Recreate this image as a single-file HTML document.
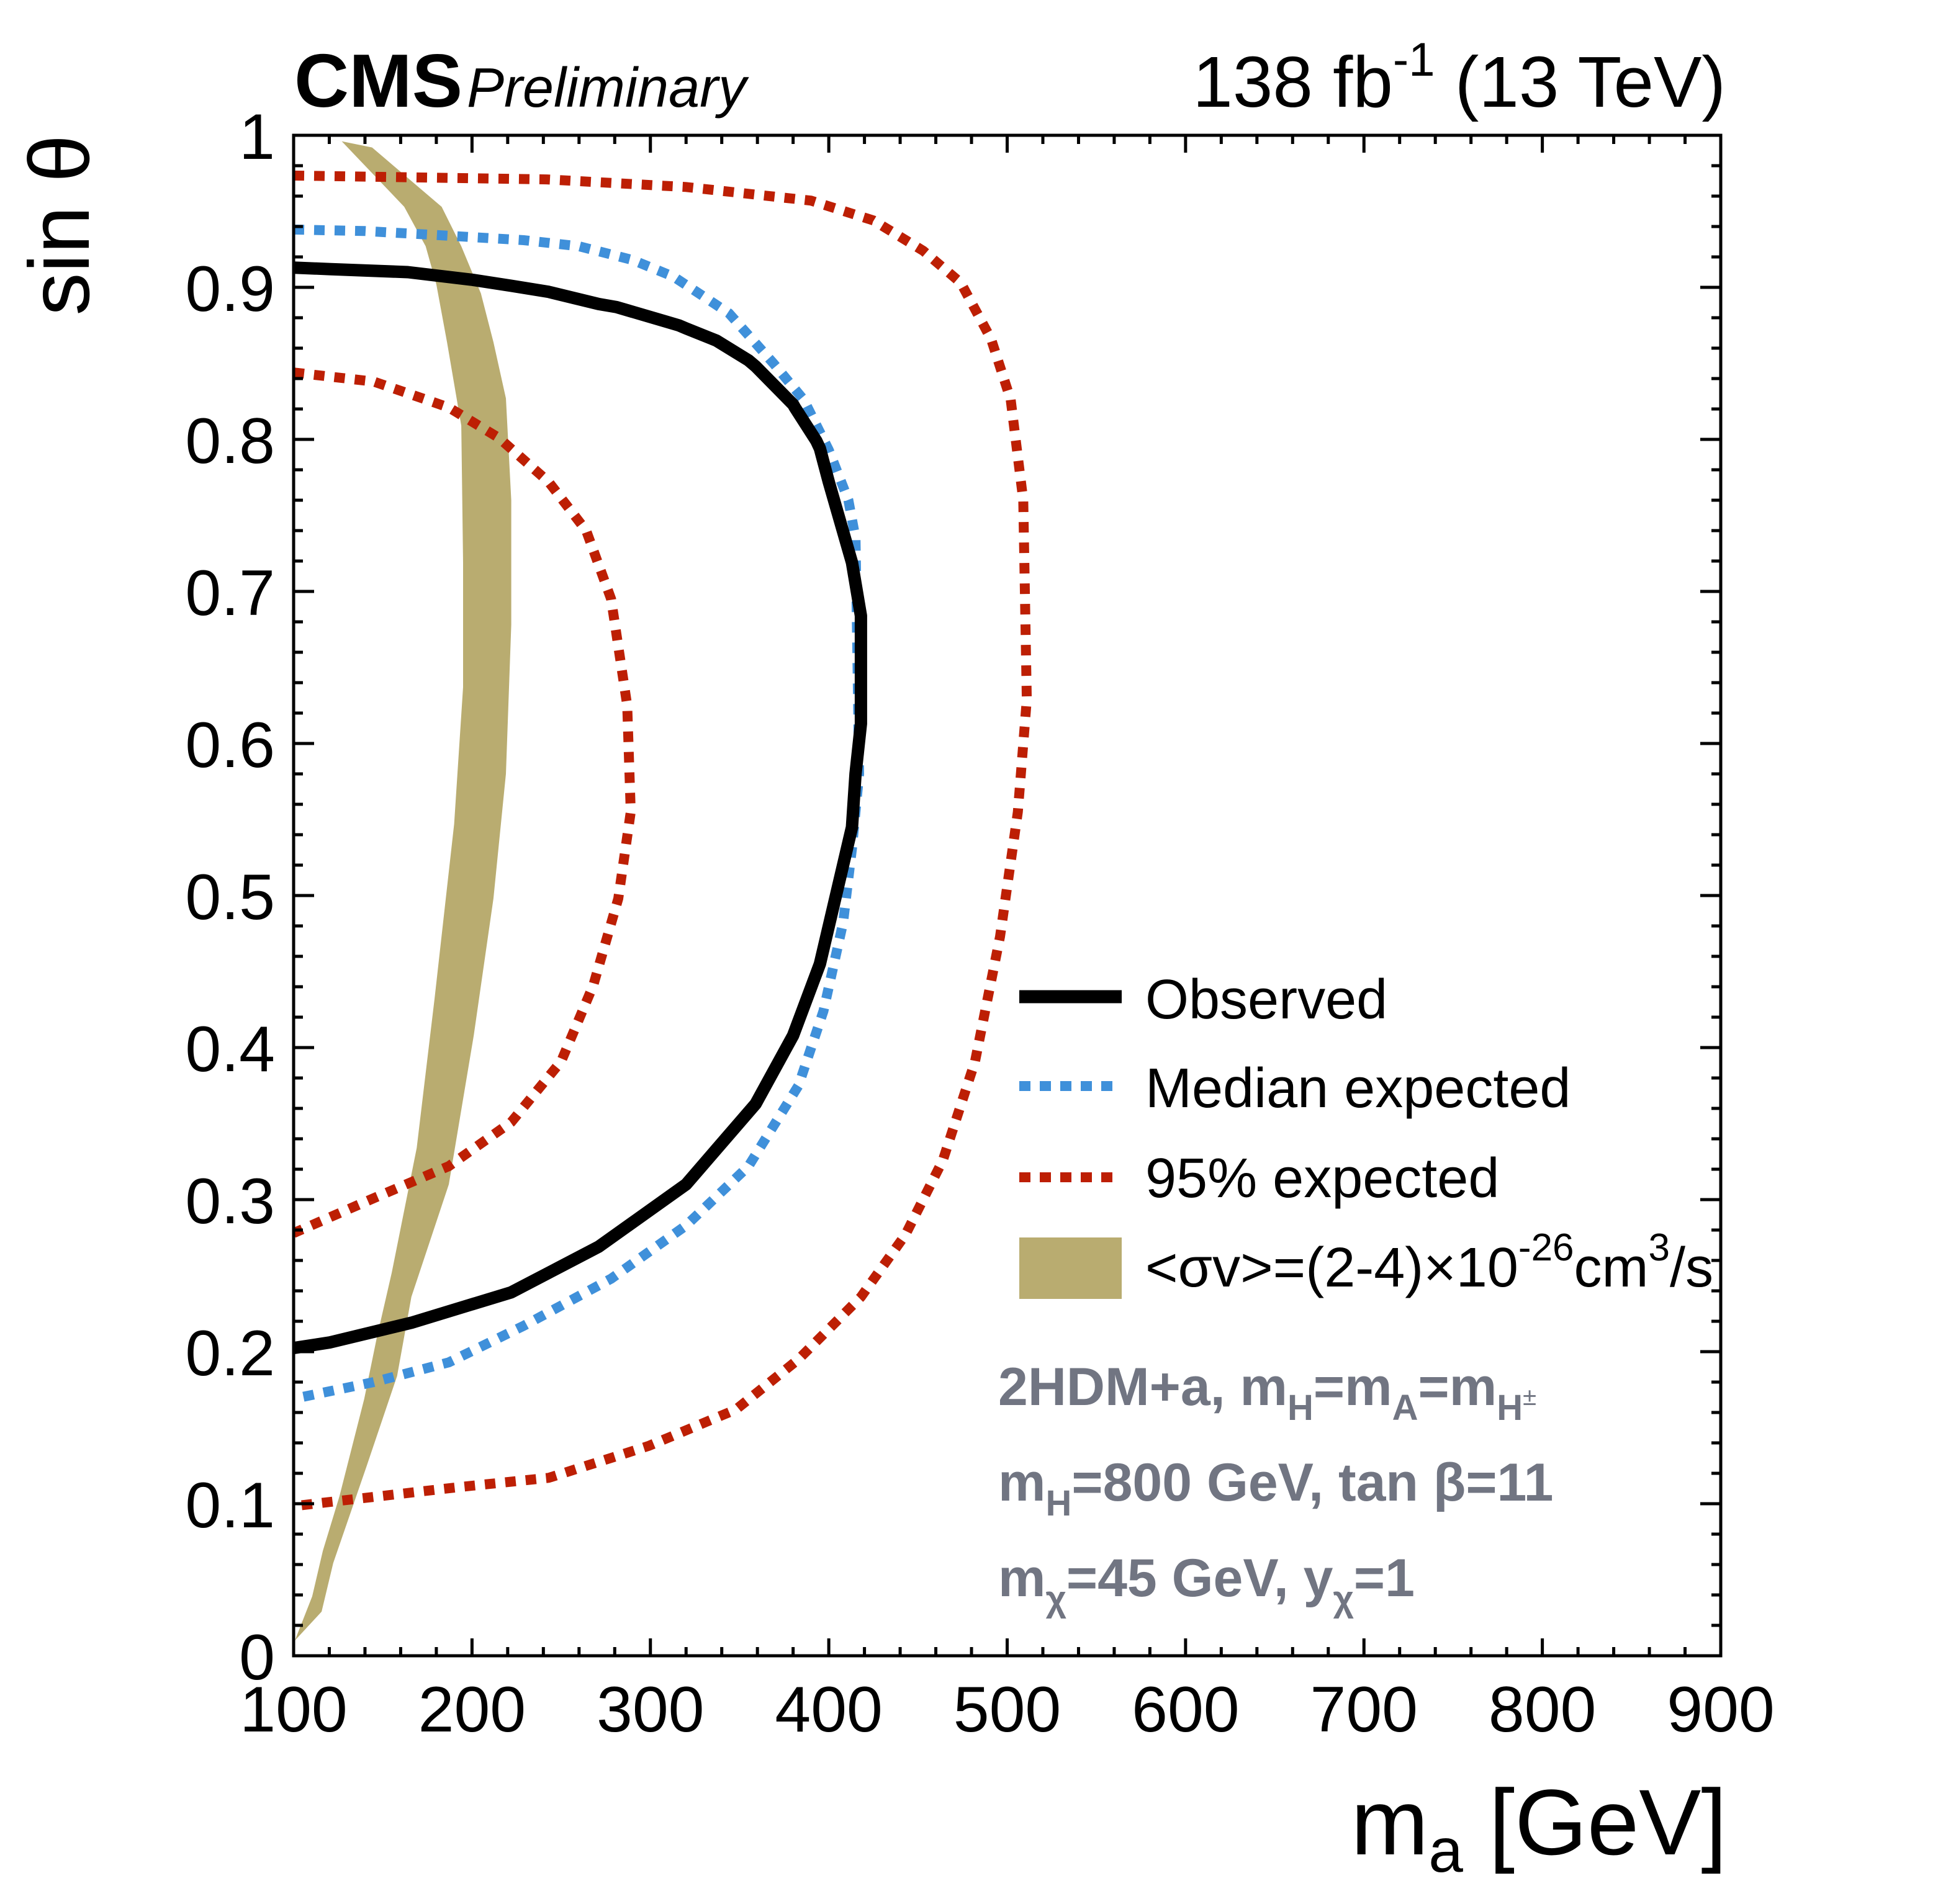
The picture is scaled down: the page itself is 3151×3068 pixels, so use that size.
<!DOCTYPE html>
<html><head><meta charset="utf-8"><style>
html,body{margin:0;padding:0;background:#fff;}
svg{display:block;font-family:"Liberation Sans",Arial,sans-serif;}
</style></head><body>
<svg id="chart" width="3151" height="3068" viewBox="0 0 3151 3068" xmlns="http://www.w3.org/2000/svg">
<defs><clipPath id="plotclip"><rect x="473" y="218" width="2299" height="2450"/></clipPath></defs>
<rect x="0" y="0" width="3151" height="3068" fill="#fff"/>
<g id="band" clip-path="url(#plotclip)"></g>
<g id="curves" clip-path="url(#plotclip)"></g>
<g id="ticks"></g>
<rect x="473" y="218" width="2299" height="2450" fill="none" stroke="#000" stroke-width="5"/>
<g id="labels" font-size="104" fill="#000"></g>
<text x="474" y="172" font-size="122" font-weight="bold">CMS</text>
<text x="752" y="172" font-size="90" font-style="italic">Preliminary</text>
<text x="2780" y="172" font-size="116" text-anchor="end">138 fb<tspan font-size="76" dy="-50">-1</tspan><tspan dy="50"> (13 TeV)</tspan></text>
<text transform="translate(143,217) rotate(-90)" font-size="138" text-anchor="end">sin θ</text>
<text x="2782" y="2988" font-size="150" text-anchor="end">m<tspan font-size="100" dy="28">a</tspan><tspan dy="-28"> [GeV]</tspan></text>
<g font-size="90">
<line x1="1642" y1="1606" x2="1807" y2="1606" stroke="#000" stroke-width="21"/>
<text x="1845" y="1641">Observed</text>
<line x1="1642" y1="1750" x2="1807" y2="1750" stroke="#3f90da" stroke-width="16" stroke-dasharray="18 15"/>
<text x="1845" y="1784">Median expected</text>
<line x1="1642" y1="1897" x2="1807" y2="1897" stroke="#bd1f04" stroke-width="16" stroke-dasharray="18 15"/>
<text x="1845" y="1929">95% expected</text>
<rect x="1642" y="1994" width="165" height="99" fill="#b9ac70"/>
<text x="1845" y="2073">&lt;σv&gt;=(2-4)×10<tspan font-size="62" dy="-42">-26</tspan><tspan dy="42">cm</tspan><tspan font-size="62" dy="-42">3</tspan><tspan dy="42">/s</tspan></text>
</g>
<g font-size="86" font-weight="bold" fill="#717582">
<text x="1608" y="2264">2HDM+a, m<tspan font-size="58" dy="24">H</tspan><tspan dy="-24">=m</tspan><tspan font-size="58" dy="24">A</tspan><tspan dy="-24">=m</tspan><tspan font-size="58" dy="24">H</tspan><tspan font-size="40" font-weight="normal" dy="-24">±</tspan></text>
<text x="1608" y="2418">m<tspan font-size="58" dy="24">H</tspan><tspan dy="-24">=800 GeV, tan β=11</tspan></text>
<text x="1608" y="2572">m<tspan font-size="58" dy="24">χ</tspan><tspan dy="-24">=45 GeV, y</tspan><tspan font-size="58" dy="24">χ</tspan><tspan dy="-24">=1</tspan></text>
</g>
</svg>
<script>
// ---- data ----
const xTicks = [100,200,300,400,500,600,700,800,900];
const yTicks = [0,0.1,0.2,0.3,0.4,0.5,0.6,0.7,0.8,0.9,1];
const yTickLabels = ["0","0.1","0.2","0.3","0.4","0.5","0.6","0.7","0.8","0.9","1"];
const observedX = [100,120,164,200,222,243,271,281,316,320,337,355,359,380,381,393,395,400,413,418,418,415,413,395,380,359,320,271,222,166,120,100];
const observedY = [0.913,0.912,0.910,0.905,0.901,0.897,0.889,0.887,0.875,0.873,0.865,0.852,0.848,0.823,0.821,0.799,0.794,0.772,0.719,0.684,0.613,0.58,0.545,0.455,0.408,0.363,0.310,0.269,0.239,0.219,0.206,0.2024];
const medianX = [100,140,186,229,260,290,313,344,369,386,400,411,415,416,417,413,408,397,383,355,320,278,229,187,145,100];
const medianY = [0.938,0.937,0.934,0.931,0.927,0.918,0.907,0.883,0.850,0.826,0.793,0.760,0.735,0.66,0.58,0.531,0.482,0.424,0.375,0.322,0.283,0.248,0.217,0.193,0.180,0.169];
const outer95X = [100,242,320,390,425,453,474,491,502,509,511,506,496,482,464,443,418,383,348,299,243,193,100];
const outer95Y = [0.9735,0.971,0.966,0.957,0.944,0.924,0.903,0.866,0.826,0.760,0.629,0.555,0.473,0.391,0.326,0.277,0.236,0.195,0.162,0.138,0.117,0.111,0.0984];
const inner95X = [100,145,187,215,243,264,278,287,289,282,268,250,222,187,145,100];
const inner95Y = [0.844,0.838,0.821,0.801,0.772,0.740,0.695,0.625,0.555,0.498,0.441,0.391,0.351,0.322,0.301,0.278];
const bandUpperX = [110.4,144,183,194,205,212,219,222,222,219,212,201,187,166,158,140.7,122.2,115.7,100.7];
const bandUpperY = [1.0,0.992,0.953,0.927,0.896,0.864,0.827,0.760,0.678,0.580,0.498,0.408,0.310,0.236,0.184,0.124,0.061,0.029,0.010];
const bandLowerX = [100.7,110.4,116.4,125.7,139.6,146.6,155,169,179,190,195,195,194,186,180,174,162,127,110.4];
const bandLowerY = [0.010,0.039,0.069,0.105,0.169,0.209,0.252,0.334,0.432,0.547,0.637,0.719,0.809,0.864,0.902,0.927,0.953,0.996,1.0];

// ---- axes ----
const X0=473, X1=2772, Y0=2668, Y1=218;
function sx(v){return X0+(v-100)/800*(X1-X0);}
function sy(v){return Y0-v*(Y0-Y1);}
const NS="http://www.w3.org/2000/svg";
function mk(tag,attrs,parent){const e=document.createElementNS(NS,tag);for(const k in attrs)e.setAttribute(k,attrs[k]);parent.appendChild(e);return e;}
function pts(xs,ys){return xs.map((x,i)=>sx(x).toFixed(1)+","+sy(ys[i]).toFixed(1)).join(" ");}

const band=document.getElementById('band');
const poly=mk('polygon',{points:pts(bandUpperX,bandUpperY)+" "+pts(bandLowerX,bandLowerY),fill:'#b9ac70'},band);



const cv=document.getElementById('curves');
const o95=mk('polyline',{points:pts(outer95X,outer95Y),fill:'none',stroke:'#bd1f04','stroke-width':16,'stroke-dasharray':'17 16'},cv);


const i95=mk('polyline',{points:pts(inner95X,inner95Y),fill:'none',stroke:'#bd1f04','stroke-width':16,'stroke-dasharray':'17 16'},cv);


const med=mk('polyline',{points:pts(medianX,medianY),fill:'none',stroke:'#3f90da','stroke-width':16,'stroke-dasharray':'17 16'},cv);


const obs=mk('polyline',{points:pts(observedX,observedY),fill:'none',stroke:'#000','stroke-width':20,'stroke-linejoin':'round'},cv);



const tk=document.getElementById('ticks');
for(let v=100; v<=900.01; v+=20){
  const major=Math.abs((v-100)%100)<0.01;const L=major?28:14;const x=sx(v);
  const t1=mk('line',{x1:x,y1:Y0,x2:x,y2:Y0-L,stroke:'#000','stroke-width':5},tk);
  
  
  const t2=mk('line',{x1:x,y1:Y1,x2:x,y2:Y1+L,stroke:'#000','stroke-width':5},tk);
  
  
}
for(let i=0;i<=50;i++){
  const v=i*0.02;const major=i%5===0;const L=major?33:15;const y=sy(v);
  const t1=mk('line',{x1:X0,y1:y,x2:X0+L,y2:y,stroke:'#000','stroke-width':5},tk);
  
  
  const t2=mk('line',{x1:X1,y1:y,x2:X1-L,y2:y,stroke:'#000','stroke-width':5},tk);
  
  
}
const lb=document.getElementById('labels');
xTicks.forEach(v=>{
  const t=mk('text',{x:sx(v),y:2790,'text-anchor':'middle'},lb);t.textContent=String(v);
  
  
});
yTicks.forEach((v,i)=>{
  const t=mk('text',{x:443,y:sy(v)+38,'text-anchor':'end'},lb);t.textContent=yTickLabels[i];
  
  
});
</script>
</body></html>
